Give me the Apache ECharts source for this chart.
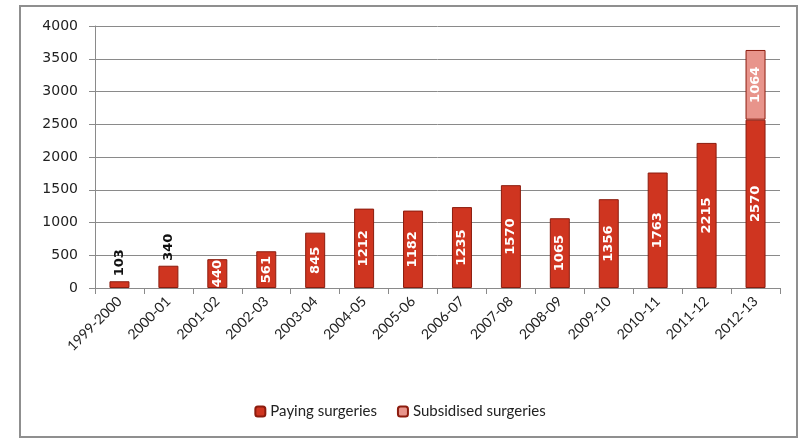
<!DOCTYPE html>
<html><head><meta charset="utf-8">
<script src="https://cdn.jsdelivr.net/npm/echarts@6/dist/echarts.min.js"></script>
<style>html,body{margin:0;padding:0;background:#fff}#c{width:800px;height:441px}</style>
</head><body><div id="c"></div>
<script>
var categories = ['1999-2000','2000-01','2001-02','2002-03','2003-04','2004-05','2005-06','2006-07','2007-08','2008-09','2009-10','2010-11','2011-12','2012-13'];
var paying = [103,340,440,561,845,1212,1182,1235,1570,1065,1356,1763,2215,2570];
var subsidised = [null,null,null,null,null,null,null,null,null,null,null,null,null,1064];
var outsideLabels = ['1999-2000','2000-01'];

var chart = echarts.init(document.getElementById('c'));
var payData = paying.map(function(v,i){
  var outside = outsideLabels.indexOf(categories[i]) >= 0;
  return {value:v, label: outside ? {position:'top', color:'#111', distance:5, align:'left', verticalAlign:'middle'} : {position:'inside', color:'#fff'}};
});
chart.setOption({
  animation:false,
  graphic:[{type:'rect', shape:{x:20,y:6,width:777,height:431}, style:{fill:'none', stroke:'#8f8f8f', lineWidth:2}, z:-1}],
  grid:{left:95, right:20, top:26, bottom:153},
  legend:{bottom:17, left:'center', itemWidth:10, itemHeight:10, itemGap:20,
    textStyle:{fontFamily:'Lato', fontSize:15, color:'#222'},
    data:['Paying surgeries','Subsidised surgeries']},
  xAxis:{type:'category', data:categories,
    axisLine:{lineStyle:{color:'#8a8a8a', width:1}},
    axisTick:{show:true, length:6, lineStyle:{color:'#8a8a8a'}},
    axisLabel:{rotate:45, interval:0, fontFamily:'Lato', fontSize:14, color:'#222', margin:11}},
  yAxis:{type:'value', min:0, max:4000, interval:500,
    axisLine:{show:true, lineStyle:{color:'#8a8a8a'}},
    axisTick:{show:true, length:6, lineStyle:{color:'#8a8a8a'}},
    splitLine:{lineStyle:{color:'#8a8a8a', width:1}},
    axisLabel:{fontFamily:'DejaVu Sans', fontSize:14, color:'#222', margin:17, formatter:function(v){return String(v);}}},
  series:[
    {name:'Paying surgeries', type:'bar', stack:'s', barWidth:20, data:payData,
     itemStyle:{color:'#cf3520', borderColor:'#8c1c0e', borderWidth:1},
     label:{show:true, rotate:90, fontFamily:'DejaVu Sans', fontWeight:'bold', fontSize:13}},
    {name:'Subsidised surgeries', type:'bar', stack:'s', barWidth:20, data:subsidised,
     itemStyle:{color:'#e8948b', borderColor:'#8c1c0e', borderWidth:1},
     label:{show:true, position:'inside', rotate:90, color:'#fff', fontFamily:'DejaVu Sans', fontWeight:'bold', fontSize:13}}
  ]
});
</script></body></html>
